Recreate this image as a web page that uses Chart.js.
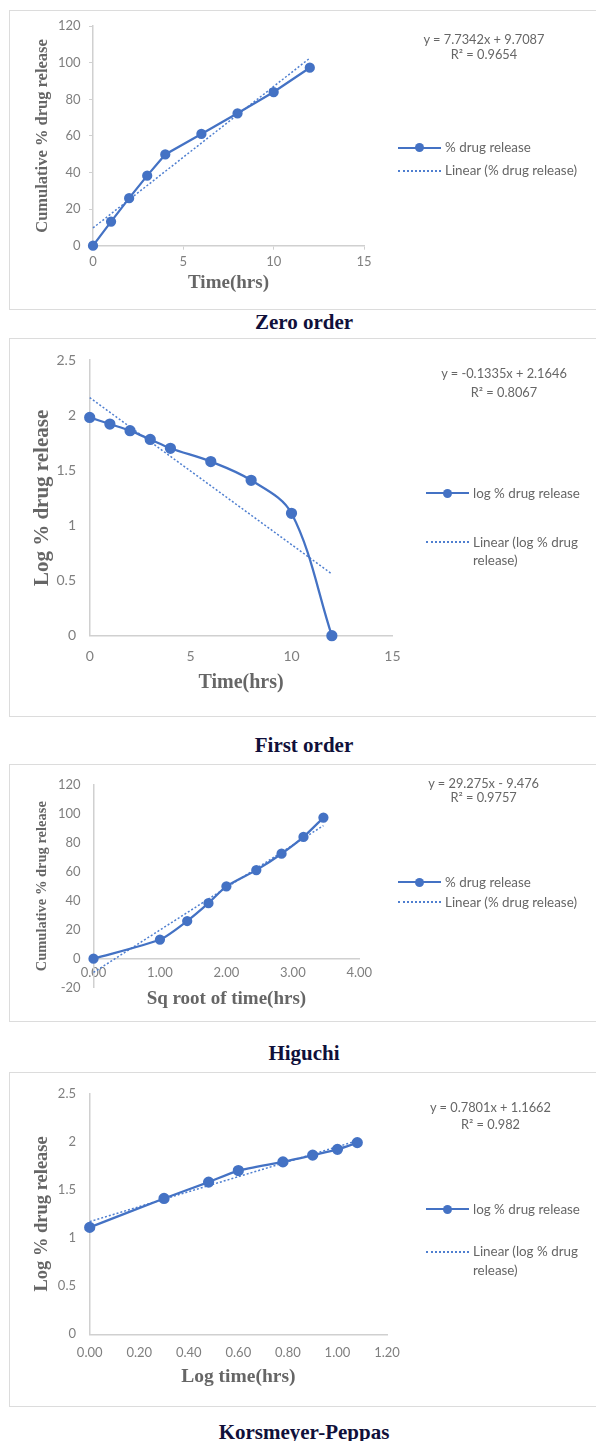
<!DOCTYPE html>
<html>
<head>
<meta charset="utf-8">
<title>Release kinetics</title>
<script src="https://cdn.jsdelivr.net/npm/chart.js@4.4.1/dist/chart.umd.min.js"></script>
<style>
  body { margin: 0; background: #fff; width: 596px; height: 1441px; position: relative; overflow: hidden; }
  .box { position: absolute; left: 9px; width: 600px; border: 1.5px solid #dcdcdc; box-sizing: border-box; }
  canvas { position: absolute; left: 0; }
  .cap { position: absolute; left: 0; width: 608px; text-align: center; font: bold 21px "Liberation Serif", "Times New Roman", serif; color: #10103a; line-height: 24px; }
  .eq { position: absolute; font: 12.8px Lato, sans-serif; color: #666; white-space: nowrap; line-height: 14px; transform: translateX(-50%); }
  .lg { position: absolute; font: 13.4px Lato, sans-serif; color: #666; white-space: nowrap; line-height: 18.7px; }
  .solid { position: absolute; width: 43px; height: 2.25px; background: #4472C4; }
  .dot { position: absolute; width: 9px; height: 9px; border-radius: 50%; background: #4472C4; }
  .dotted { position: absolute; width: 43px; height: 0; border-top: 2px dotted #4f7fd0; }
</style>
</head>
<body>

<div class="box" style="top:10px;height:300px"></div>
<div class="box" style="top:338px;height:379px"></div>
<div class="box" style="top:764px;height:258px"></div>
<div class="box" style="top:1072px;height:335px"></div>

<canvas id="zero" width="596" height="300" style="top:10px"></canvas>
<canvas id="first" width="596" height="378" style="top:338px"></canvas>
<canvas id="higuchi" width="596" height="257" style="top:764px"></canvas>
<canvas id="kp" width="596" height="334" style="top:1072px"></canvas>

<!-- zero order -->
<div class="eq" style="left:484px;top:32px">y = 7.7342x + 9.7087</div>
<div class="eq" style="left:484px;top:47px">R² = 0.9654</div>
<div class="solid" style="left:398px;top:146.6px"></div>
<div class="dot" style="left:415px;top:143.2px"></div>
<div class="lg" style="left:445px;top:138.4px">% drug release</div>
<div class="dotted" style="left:398px;top:169.7px"></div>
<div class="lg" style="left:445px;top:161.4px">Linear (% drug release)</div>
<div class="cap" style="top:310px">Zero order</div>

<!-- first order -->
<div class="eq" style="left:504px;top:365.7px">y = -0.1335x + 2.1646</div>
<div class="eq" style="left:504px;top:384.7px">R² = 0.8067</div>
<div class="solid" style="left:426px;top:492.2px"></div>
<div class="dot" style="left:442.5px;top:488.8px"></div>
<div class="lg" style="left:473px;top:484px">log % drug release</div>
<div class="dotted" style="left:426px;top:541px"></div>
<div class="lg" style="left:473px;top:532.7px">Linear (log % drug<br>release)</div>
<div class="cap" style="top:733px">First order</div>

<!-- higuchi -->
<div class="eq" style="left:483.6px;top:776.3px">y = 29.275x - 9.476</div>
<div class="eq" style="left:483.6px;top:789.7px">R² = 0.9757</div>
<div class="solid" style="left:398px;top:881.2px"></div>
<div class="dot" style="left:415px;top:877.8px"></div>
<div class="lg" style="left:445px;top:873px">% drug release</div>
<div class="dotted" style="left:398px;top:901.3px"></div>
<div class="lg" style="left:445px;top:893px">Linear (% drug release)</div>
<div class="cap" style="top:1041.3px">Higuchi</div>

<!-- korsmeyer-peppas -->
<div class="eq" style="left:490.5px;top:1100.3px">y = 0.7801x + 1.1662</div>
<div class="eq" style="left:490.5px;top:1117.3px">R² = 0.982</div>
<div class="solid" style="left:426px;top:1207.9px"></div>
<div class="dot" style="left:442.5px;top:1204.5px"></div>
<div class="lg" style="left:473px;top:1199.7px">log % drug release</div>
<div class="dotted" style="left:426px;top:1250.7px"></div>
<div class="lg" style="left:473px;top:1242.4px">Linear (log % drug<br>release)</div>
<div class="cap" style="top:1419.7px">Korsmeyer-Peppas</div>

<script>
// ---------------------------------------------------
// data
const hrs = [0, 1, 2, 3, 4, 6, 8, 10, 12];
const cumRelease = [0, 13.2, 26, 38.3, 49.9, 61.1, 72.4, 84, 97.3];
const zeroTrendX = [0, 12];
const zeroTrendY = [9.71, 102.52];

const logRelease = [1.98, 1.92, 1.86, 1.78, 1.70, 1.58, 1.41, 1.11, 0];
const firstTrendX = [0, 12];
const firstTrendY = [2.16, 0.56];

const sqrtHrs = [0, 1.00, 1.41, 1.73, 2.00, 2.45, 2.83, 3.16, 3.46];
const higuchiTrendX = [0, 3.46];
const higuchiTrendY = [-9.48, 91.81];

const logHrs = [0, 0.30, 0.48, 0.60, 0.78, 0.90, 1.00, 1.08];
const logCum = [1.11, 1.41, 1.58, 1.70, 1.79, 1.86, 1.92, 1.99];
const kpTrendX = [0, 1.08];
const kpTrendY = [1.17, 2.01];

// ---------------------------------------------------
const blue = "#4472C4";
const axisColor = "#d0d0d0";
const tickColor = "#7f7f7f";
const titleColor = "#666666";

function pts(xs, ys) {
  return xs.map(function (x, i) { return { x: x, y: ys[i] }; });
}

// c.top = canvas top on the page, c.area = plot area in page pixels
function makeChart(id, c) {
  const cv = document.getElementById(id);
  const bottom = c.top + cv.height;
  const lhX = c.xTitleSize * 1.2;
  const lhY = c.yTitleSize * 1.2;
  const zeroY = c.area.b - (0 - c.yMin) / (c.yMax - c.yMin) * (c.area.b - c.area.t);

  const grid = {
    display: true,
    drawOnChartArea: false,
    drawTicks: c.tickLen > 0,
    tickLength: c.tickLen,
    color: axisColor,
  };

  const x = {
    type: "linear",
    min: c.xMin,
    max: c.xMax,
    ticks: {
      stepSize: c.xStep,
      color: tickColor,
      font: { family: "Lato", size: c.tickSize },
      padding: c.xTickPad,
      maxRotation: 0,
      autoSkip: false,
      callback: c.xFmt,
    },
    grid: grid,
    border: { display: true, color: axisColor, width: 1.5 },
    title: {
      display: true,
      text: c.xTitle,
      color: titleColor,
      font: { family: "Liberation Serif", weight: "bold", size: c.xTitleSize },
      padding: { top: 0, bottom: c.xAtZero ? 0 : bottom - c.xTitleY - lhX / 2 },
    },
    afterFit: function (s) {
      s.height = c.xAtZero ? c.xTitleY - zeroY + lhX / 2 : bottom - c.area.b;
    },
  };
  if (c.xAtZero) x.position = { y: 0 };

  const y = {
    min: c.yMin,
    max: c.yMax,
    ticks: {
      stepSize: c.yStep,
      color: tickColor,
      font: { family: "Lato", size: c.tickSize },
      padding: c.yTickPad,
      callback: function (v) { return String(+v.toFixed(2)); },
    },
    grid: grid,
    border: { display: true, color: axisColor, width: 1.5 },
    title: {
      display: true,
      text: c.yTitle,
      color: titleColor,
      font: { family: "Liberation Serif", weight: "bold", size: c.yTitleSize },
      padding: { top: c.yTitleX - lhY / 2, bottom: 0 },
    },
    afterFit: function (s) {
      s.width = c.area.l;
    },
  };

  return new Chart(id, {
    type: "line",
    data: {
      datasets: [{
        label: c.label,
        data: pts(c.xs, c.ys),
        borderColor: blue,
        backgroundColor: blue,
        borderWidth: 2.25,
        pointRadius: c.pointR,
        pointBackgroundColor: blue,
        pointBorderColor: blue,
        tension: c.tension,
        fill: false,
        clip: false,
      }, {
        label: "Linear (" + c.label + ")",
        data: pts(c.tx, c.ty),
        borderColor: "#4f7fd0",
        borderWidth: 1.5,
        borderDash: [2, 2],
        pointRadius: 0,
        tension: 0,
        fill: false,
        clip: false,
      }],
    },
    options: {
      responsive: false,
      animation: false,
      devicePixelRatio: 1,
      layout: {
        padding: {
          left: 0,
          top: c.area.t - c.top,
          right: cv.width - c.area.r,
          bottom: c.xAtZero ? bottom - c.area.b : 0,
        },
      },
      plugins: {
        legend: { display: false },
        tooltip: { enabled: false },
      },
      scales: { x: x, y: y },
    },
  });
}

// zero order
makeChart("zero", {
  top: 10, area: { l: 93, r: 364, t: 24.3, b: 245.7 },
  xs: hrs, ys: cumRelease, tx: zeroTrendX, ty: zeroTrendY, label: "% drug release",
  xMin: 0, xMax: 15, xStep: 5, yMin: 0, yMax: 120, yStep: 20,
  xTitle: "Time(hrs)", xTitleSize: 19, xTitleY: 283,
  yTitle: "Cumulative % drug release", yTitleSize: 16.5, yTitleX: 43,
  tickSize: 13, tickLen: 4, yTickPad: 8.4, xTickPad: 4.5,
  tension: 0, pointR: 4,
});

// first order
makeChart("first", {
  top: 338, area: { l: 89.7, r: 392.4, t: 357.7, b: 635.7 },
  xs: hrs, ys: logRelease, tx: firstTrendX, ty: firstTrendY, label: "log % drug release",
  xMin: 0, xMax: 15, xStep: 5, yMin: 0, yMax: 2.5, yStep: 0.5,
  xTitle: "Time(hrs)", xTitleSize: 20, xTitleY: 682.7,
  yTitle: "Log % drug release", yTitleSize: 21, yTitleX: 43,
  tickSize: 14, tickLen: 0, yTickPad: 13.7, xTickPad: 11.9,
  tension: 0.35, pointR: 4.5,
});

// higuchi
makeChart("higuchi", {
  top: 764, area: { l: 93.5, r: 359.3, t: 776, b: 987.7 }, xAtZero: true,
  xs: sqrtHrs, ys: cumRelease, tx: higuchiTrendX, ty: higuchiTrendY, label: "% drug release",
  xMin: 0, xMax: 4, xStep: 1, yMin: -20, yMax: 120, yStep: 20,
  xFmt: function (v) { return v.toFixed(2); },
  xTitle: "Sq root of time(hrs)", xTitleSize: 19, xTitleY: 998.3,
  yTitle: "Cumulative % drug release", yTitleSize: 14.5, yTitleX: 42.5,
  tickSize: 13, tickLen: 0, yTickPad: 12.9, xTickPad: 6.2,
  tension: 0.25, pointR: 4,
});

// korsmeyer-peppas
makeChart("kp", {
  top: 1072, area: { l: 89.7, r: 387, t: 1090.5, b: 1334.3 },
  xs: logHrs, ys: logCum, tx: kpTrendX, ty: kpTrendY, label: "log % drug release",
  xMin: 0, xMax: 1.2, xStep: 0.2, yMin: 0, yMax: 2.5, yStep: 0.5,
  xFmt: function (v) { return v.toFixed(2); },
  xTitle: "Log time(hrs)", xTitleSize: 19.5, xTitleY: 1376.7,
  yTitle: "Log % drug release", yTitleSize: 18.5, yTitleX: 42.5,
  tickSize: 13, tickLen: 0, yTickPad: 13.7, xTickPad: 10.6,
  tension: 0.2, pointR: 4.5,
});
</script>
</body>
</html>
